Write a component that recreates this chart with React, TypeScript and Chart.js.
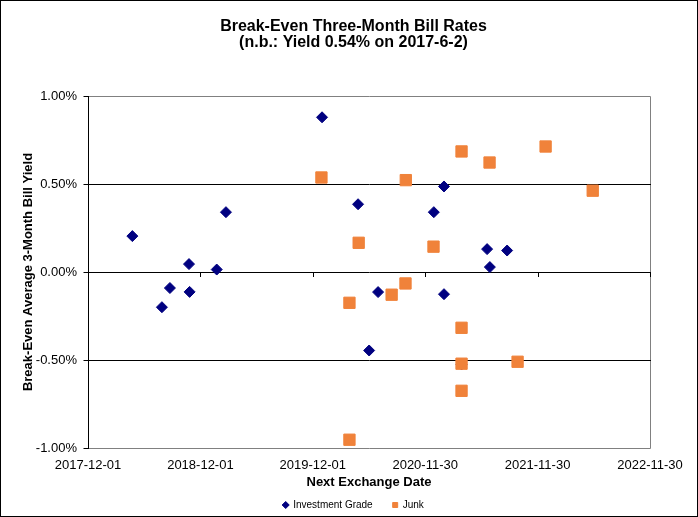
import React, { useEffect, useRef } from "react";
import { Chart, registerables } from "chart.js";

Chart.register(...registerables);

const TITLE_LINES = ["Break-Even Three-Month Bill Rates", "(n.b.: Yield 0.54% on 2017-6-2)"];
const X_TITLE = "Next Exchange Date";
const Y_TITLE = "Break-Even Average 3-Month Bill Yield";
const SERIES_NAMES = ["Investment Grade", "Junk"];

const BASE_DATE = "2017-12-01";
const X_TICK_STEP_DAYS = 365;
const X_MAX_DAYS = 1825;
const Y_MIN = -1;
const Y_MAX = 1;
const Y_STEP = 0.5;
const Y_GRID_BLACK = [0.5, 0, -0.5];

const igDates = [
  "2018-04-24", "2018-07-29", "2018-08-24", "2018-10-25", "2018-10-27", "2019-01-23",
  "2019-02-22", "2019-12-31", "2020-04-26", "2020-06-01", "2020-06-30", "2020-12-28",
  "2021-01-30", "2021-01-30", "2021-03-28", "2021-06-19", "2021-06-28", "2021-08-23",
];
const igYields = [
  0.204, -0.2, -0.091, 0.045, -0.113, 0.014,
  0.34, 0.879, 0.385, -0.446, -0.114, 0.34,
  0.486, -0.126, -0.525, 0.13, 0.028, 0.122,
];

const junkDates = [
  "2019-12-29", "2020-09-28", "2021-03-28", "2021-06-27", "2021-12-26", "2022-05-28",
  "2020-04-28", "2020-12-27", "2020-09-27", "2020-08-13", "2020-03-29", "2021-03-28",
  "2021-03-28", "2021-09-26", "2021-03-28", "2020-03-29",
];
const junkYields = [
  0.537, 0.522, 0.685, 0.622, 0.713, 0.462,
  0.166, 0.144, -0.065, -0.129, -0.175, -0.317,
  -0.521, -0.51, -0.675, -0.953,
];

const DAY_MS = 86400000;
const parseUTC = (s: string) => {
  const [y, m, d] = s.split("-").map(Number);
  return Date.UTC(y, m - 1, d);
};
const BASE_MS = parseUTC(BASE_DATE);
const dayOffset = (s: string) => Math.round((parseUTC(s) - BASE_MS) / DAY_MS);
const dayLabel = (v: number) => new Date(BASE_MS + Math.round(v) * DAY_MS).toISOString().slice(0, 10);

const FONT = "'Liberation Sans', Arial, sans-serif";

const decorPlugin = {
  id: "decor",
  beforeDatasetsDraw(chart: any) {
    const { ctx, chartArea: a, scales } = chart;
    const xs = scales.x;
    const ys = scales.y;
    ctx.save();
    ctx.lineWidth = 1;
    ctx.strokeStyle = "#808080";
    ctx.beginPath();
    ctx.moveTo(a.left, Math.round(a.top) + 0.5);
    ctx.lineTo(Math.round(a.right) + 0.5, Math.round(a.top) + 0.5);
    ctx.lineTo(Math.round(a.right) + 0.5, Math.round(a.bottom) + 0.5);
    ctx.lineTo(a.left, Math.round(a.bottom) + 0.5);
    ctx.stroke();
    ctx.strokeStyle = "#000000";
    ctx.beginPath();
    for (const v of Y_GRID_BLACK) {
      const py = Math.round(ys.getPixelForValue(v)) + 0.5;
      ctx.moveTo(a.left, py);
      ctx.lineTo(Math.round(a.right) + 1, py);
    }
    const lx = Math.round(a.left) + 0.5;
    ctx.moveTo(lx, Math.round(a.top));
    ctx.lineTo(lx, Math.round(a.bottom) + 1);
    for (let v = Y_MIN; v <= Y_MAX + 1e-9; v += Y_STEP) {
      const py = Math.round(ys.getPixelForValue(v)) + 0.5;
      ctx.moveTo(lx - 5, py);
      ctx.lineTo(lx, py);
    }
    const zy = Math.round(ys.getPixelForValue(0));
    for (let d = 0; d <= X_MAX_DAYS; d += X_TICK_STEP_DAYS) {
      const px = Math.round(xs.getPixelForValue(d)) + 0.5;
      ctx.moveTo(px, zy);
      ctx.lineTo(px, zy + 5);
    }
    ctx.stroke();
    ctx.restore();
  },
  afterDraw(chart: any) {
    const { ctx, width, height } = chart;
    ctx.save();
    ctx.strokeStyle = "#000000";
    ctx.lineWidth = 1;
    ctx.strokeRect(0.5, 0.5, width - 1, height - 1);
    ctx.restore();
  },
};

export default function App() {
  const ref = useRef<HTMLCanvasElement | null>(null);

  useEffect(() => {
    if (!ref.current) return;
    const igData = igDates.map((d, i) => ({ x: dayOffset(d), y: igYields[i] }));
    const junkData = junkDates.map((d, i) => ({ x: dayOffset(d), y: junkYields[i] }));
    const chart = new Chart(ref.current, {
      type: "scatter",
      data: {
        datasets: [
          {
            label: SERIES_NAMES[0],
            data: igData,
            pointStyle: "rectRot",
            pointRadius: 5.5,
            pointHoverRadius: 5.5,
            backgroundColor: "#000080",
            borderColor: "#000080",
            borderWidth: 1,
            order: 1,
          },
          {
            label: SERIES_NAMES[1],
            data: junkData,
            pointStyle: "rect",
            pointRadius: 8,
            pointHoverRadius: 8,
            backgroundColor: "#F0823A",
            borderColor: "#F0823A",
            borderWidth: 1,
            order: 0,
          },
        ],
      },
      options: {
        animation: false,
        responsive: false,
        devicePixelRatio: 1,
        events: [],
        layout: { padding: { left: 9, right: 0, top: 0, bottom: -3 } },
        plugins: {
          tooltip: { enabled: false },
          title: {
            display: true,
            text: TITLE_LINES,
            color: "#000000",
            font: { family: FONT, size: 16, weight: "bold", lineHeight: 1.0 },
            padding: { top: 19, bottom: 45 },
          },
          legend: {
            display: true,
            position: "bottom",
            labels: {
              usePointStyle: true,
              boxWidth: 5,
              boxHeight: 5,
              padding: 20,
              color: "#000000",
              font: { family: FONT, size: 10 },
              sort: (a: any, b: any) => a.datasetIndex - b.datasetIndex,
            },
          },
        },
        scales: {
          x: {
            type: "linear",
            position: "bottom",
            min: 0,
            max: X_MAX_DAYS,
            grid: { display: false, drawTicks: false },
            border: { display: false },
            ticks: {
              stepSize: X_TICK_STEP_DAYS,
              autoSkip: false,
              maxRotation: 0,
              padding: 10,
              color: "#000000",
              font: { family: FONT, size: 13 },
              callback: (v: any) => dayLabel(Number(v)),
            },
            title: {
              display: true,
              text: X_TITLE,
              color: "#000000",
              font: { family: FONT, size: 13, weight: "bold" },
              padding: { top: 0, bottom: -10 },
            },
            afterFit: (s: any) => {
              s.height = 32;
            },
          },
          y: {
            type: "linear",
            position: "left",
            min: Y_MIN,
            max: Y_MAX,
            grid: { display: false, drawTicks: false },
            border: { display: false },
            ticks: {
              stepSize: Y_STEP,
              padding: 11,
              color: "#000000",
              font: { family: FONT, size: 13 },
              callback: (v: any) => Number(v).toFixed(2) + "%",
            },
            title: {
              display: true,
              text: Y_TITLE,
              color: "#000000",
              font: { family: FONT, size: 13, weight: "bold" },
              padding: { top: 12, bottom: 0 },
            },
            afterFit: (s: any) => {
              s.width = 79;
            },
          },
          yRight: {
            type: "linear",
            position: "right",
            display: true,
            min: Y_MIN,
            max: Y_MAX,
            grid: { display: false, drawTicks: false },
            border: { display: false },
            ticks: { display: false },
            afterFit: (s: any) => {
              s.width = 48;
            },
          },
        },
      },
      plugins: [decorPlugin],
    });
    return () => chart.destroy();
  }, []);

  return (
    <div style={{ position: "absolute", left: 0, top: 0, width: 698, height: 517, background: "#ffffff" }}>
      <canvas ref={ref} width={698} height={517} style={{ display: "block", width: 698, height: 517 }} />
    </div>
  );
}
